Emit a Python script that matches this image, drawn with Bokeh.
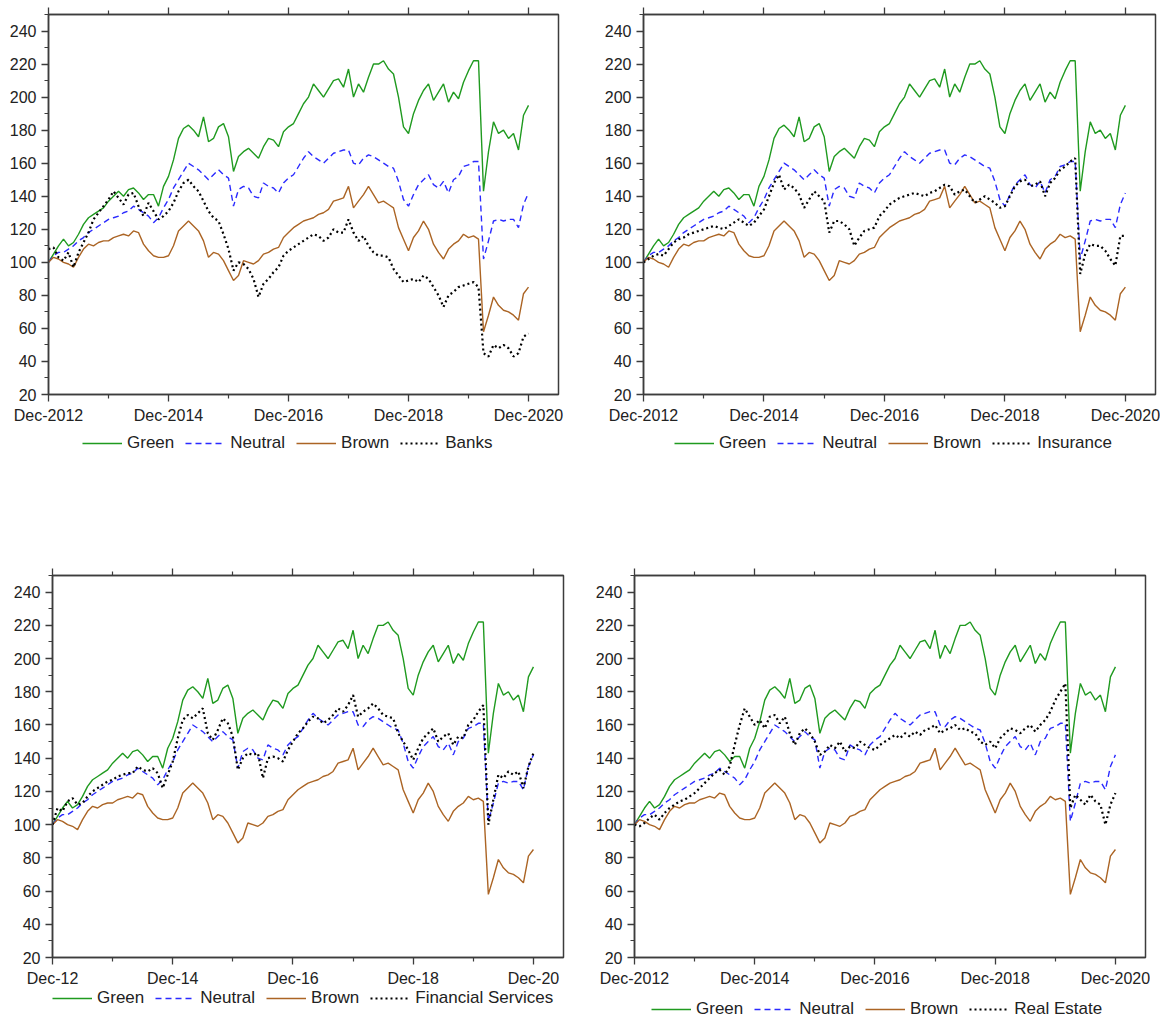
from bokeh.plotting import figure
from bokeh.models import Range1d, FixedTicker, SingleIntervalTicker, LinearAxis, Legend, LegendItem
from bokeh.layouts import column, row
from bokeh.embed import file_html
from bokeh.resources import INLINE

# months since Dec-2012 (monthly observations)
MONTHS = list(range(97))

GREEN = [100, 105, 110, 114, 110, 112, 117, 123, 127, 129, 131, 133,
         137, 140, 143, 140, 144, 145, 142, 138, 141, 141, 134, 146,
         152, 162, 175, 181, 183, 180, 176, 188, 173, 175, 182, 184,
         176, 155, 164, 167, 169, 166, 163, 170, 175, 174, 170, 179,
         182, 184, 190, 196, 200, 208, 204, 200, 205, 210, 211, 206,
         217, 200, 208, 203, 212, 220, 220, 222, 217, 214, 200, 182,
         178, 190, 198, 204, 208, 198, 203, 208, 197, 203, 199, 209,
         216, 222, 222, 143, 167, 185, 178, 180, 175, 178, 168, 189,
         195]

NEUTRAL = [100, 104, 106, 106, 108, 110, 113, 115, 118, 120, 122, 124,
           126, 127, 128, 130, 131, 134, 132, 130, 128, 124, 127, 133,
           138, 145, 150, 155, 160, 158, 156, 153, 150, 153, 156, 153,
           151, 134, 144, 146, 145, 140, 139, 148, 146, 145, 142, 148,
           151, 153, 158, 163, 167, 164, 162, 160, 163, 166, 167, 168,
           168, 160, 159, 163, 165, 164, 162, 160, 158, 157, 149, 138,
           134, 141, 147, 150, 153, 147, 145, 149, 142, 150, 152, 158,
           159, 161, 161, 102, 113, 125, 126, 125, 126, 126, 121, 135,
           142]

BROWN = [100, 103, 102, 100, 99, 97, 103, 108, 111, 110, 112, 113,
         113, 115, 116, 117, 116, 119, 118, 111, 107, 104, 103, 103,
         104, 110, 119, 122, 125, 122, 119, 113, 103, 106, 105, 101,
         95, 89, 92, 101, 100, 99, 101, 105, 106, 108, 109, 115,
         118, 121, 123, 125, 126, 127, 129, 130, 132, 137, 138, 139,
         146, 133, 137, 141, 146, 141, 136, 137, 135, 133, 121, 114,
         107, 115, 119, 125, 120, 111, 106, 102, 108, 111, 113, 117,
         115, 116, 114, 58, 68, 79, 74, 71, 70, 68, 65, 81,
         85]

BANKS = [108, 109, 103, 101, 106, 97, 106, 112, 118, 126, 130, 134,
         138, 143, 139, 135, 141, 142, 134, 128, 136, 131, 126, 128,
         131, 136, 143, 148, 150, 146, 143, 137, 131, 127, 125, 117,
         108, 95, 100, 99, 96, 90, 79, 87, 90, 94, 97, 104,
         107, 109, 111, 113, 115, 117, 116, 113, 115, 120, 118, 118,
         126, 118, 113, 116, 110, 106, 104, 104, 103, 96, 92, 88,
         89, 90, 88, 92, 90, 85, 80, 73, 80, 82, 85, 86,
         87, 88, 85, 45, 43, 50, 48, 50, 48, 43, 45, 55,
         57]

INSURANCE = [100, 102, 104, 105, 104, 108, 112, 114, 115, 117, 118, 119,
             120, 121, 122, 121, 120, 122, 124, 126, 124, 122, 124, 128,
             132, 140, 148, 153, 144, 147, 145, 141, 133, 138, 143, 140,
             137, 118, 125, 125, 123, 120, 110, 115, 119, 120, 121, 128,
             131, 135, 137, 139, 140, 141, 142, 141, 140, 142, 143, 145,
             147, 146, 141, 143, 144, 140, 136, 138, 140, 138, 136, 133,
             134, 140, 146, 149, 150, 146, 147, 149, 140, 148, 151, 156,
             158, 161, 163, 93, 105, 111, 110, 110, 107, 102, 98, 116,
             116]

FIN_SERVICES = [100, 110, 108, 114, 116, 112, 113, 117, 120, 122, 124, 126,
                127, 129, 130, 131, 131, 135, 133, 132, 134, 131, 122, 130,
                138, 152, 163, 166, 164, 167, 170, 155, 151, 157, 164, 161,
                153, 133, 140, 143, 142, 143, 128, 140, 141, 140, 138, 145,
                150, 155, 158, 162, 165, 164, 161, 163, 166, 170, 168, 172,
                178, 165, 168, 170, 173, 170, 166, 165, 164, 155, 150, 145,
                139, 146, 152, 155, 158, 150, 153, 155, 148, 153, 152, 160,
                163, 168, 172, 100, 115, 130, 128, 132, 130, 132, 122, 135,
                143]

REAL_ESTATE = [100, 99, 101, 104, 106, 103, 107, 110, 112, 114, 115, 117,
               119, 122, 125, 128, 131, 133, 130, 135, 148, 160, 170, 165,
               160, 163, 158, 165, 166, 161, 165, 155, 148, 155, 158, 155,
               150, 142, 144, 148, 146, 150, 144, 147, 146, 150, 148, 146,
               145, 148, 150, 152, 154, 152, 155, 153, 156, 154, 157, 158,
               160, 155, 157, 158, 160, 157, 158, 156, 155, 150, 148, 150,
               146, 152, 155, 158, 157, 155, 158, 160, 156, 160, 163, 168,
               175, 180, 185, 110, 118, 115, 112, 118, 114, 112, 100, 112,
               119]

X_TICKS = [0, 24, 48, 72, 96]
X_MINOR = [12, 36, 60, 84]
LABELS_LONG = ["Dec-2012", "Dec-2014", "Dec-2016", "Dec-2018", "Dec-2020"]
LABELS_SHORT = ["Dec-12", "Dec-14", "Dec-16", "Dec-18", "Dec-20"]

FONT = "Liberation Sans"
AX = "#3c3c3c"
C_GREEN = "#1f9a1f"
C_BLUE = "#2a2aff"
C_BROWN = "#ab6424"
C_BLACK = "#000000"


def style_axis(ax):
    ax.axis_line_color = AX
    ax.axis_line_width = 1.5
    ax.major_tick_line_color = AX
    ax.minor_tick_line_color = AX
    ax.major_tick_line_width = 1.3
    ax.minor_tick_line_width = 1.2
    ax.major_tick_in = 0
    ax.minor_tick_in = 0
    ax.major_tick_out = 7
    ax.minor_tick_out = 4
    ax.major_label_text_font = FONT
    ax.major_label_text_font_size = "16px"
    ax.major_label_text_color = "#222222"


def add_series(p, vals):
    rg = p.line(MONTHS, GREEN, line_color=C_GREEN, line_width=1.4)
    rn = p.line(MONTHS, NEUTRAL, line_color=C_BLUE, line_width=1.4, line_dash="6 4")
    rb = p.line(MONTHS, BROWN, line_color=C_BROWN, line_width=1.4)
    rs = p.line(MONTHS, vals, line_color=C_BLACK, line_width=2.2, line_dash="2 3")
    return rg, rn, rb, rs


def make_panel(name, vals, labels, bl, br, bt, fw, fh,
               leg_fig_h, leg_x, leg_top):
    p = figure(frame_width=fw, frame_height=fh,
               min_border_left=bl, min_border_right=br,
               min_border_top=bt, min_border_bottom=32,
               x_range=Range1d(0, 102), y_range=Range1d(20, 250),
               output_backend="svg", toolbar_location=None)
    p.xgrid.visible = False
    p.ygrid.visible = False
    p.outline_line_color = AX
    p.outline_line_width = 1.5

    xa = p.xaxis[0]
    xa.ticker = FixedTicker(ticks=X_TICKS, minor_ticks=X_MINOR)
    xa.major_label_overrides = {t: l for t, l in zip(X_TICKS, labels)}
    style_axis(xa)
    xa.major_label_standoff = 5

    ya = p.yaxis[0]
    ya.ticker = SingleIntervalTicker(interval=20, num_minor_ticks=2)
    style_axis(ya)
    ya.major_label_standoff = 5

    top = LinearAxis(ticker=FixedTicker(ticks=X_TICKS, minor_ticks=X_MINOR))
    style_axis(top)
    top.major_label_overrides = {t: "" for t in X_TICKS}
    top.major_label_text_font_size = "0px"
    top.major_label_standoff = 0
    p.add_layout(top, "above")

    add_series(p, vals)

    # legend strip below the panel (its series lie out of view; only the legend shows)
    lf = figure(frame_width=fw, height=leg_fig_h,
                min_border_left=bl, min_border_right=br,
                min_border_top=0, min_border_bottom=0,
                x_range=Range1d(1000, 1001), y_range=Range1d(1000, 1001),
                output_backend="svg", toolbar_location=None)
    lf.axis.visible = False
    lf.xgrid.visible = False
    lf.ygrid.visible = False
    lf.outline_line_color = None
    rg, rn, rb, rs = add_series(lf, vals)
    item_h = 18
    leg = Legend(items=[LegendItem(label="Green", renderers=[rg]),
                        LegendItem(label="Neutral", renderers=[rn]),
                        LegendItem(label="Brown", renderers=[rb]),
                        LegendItem(label=name, renderers=[rs])],
                 orientation="horizontal",
                 location=(leg_x, leg_fig_h - leg_top - item_h),
                 border_line_color=None, background_fill_alpha=0,
                 padding=0, margin=0, spacing=11, label_standoff=5,
                 glyph_width=40, glyph_height=item_h, label_height=item_h,
                 label_text_font=FONT, label_text_font_size="17px",
                 label_text_color="#222222")
    lf.add_layout(leg)
    return column(p, lf, spacing=0)


c1 = make_panel("Banks", BANKS, LABELS_LONG, 48, 43, 14, 510, 380, 142, 34, 9)
c2 = make_panel("Insurance", INSURANCE, LABELS_LONG, 40, 5, 14, 512, 380, 142, 31, 9)
c3 = make_panel("Financial Services", FIN_SERVICES, LABELS_SHORT, 52, 29, 6, 511, 382, 34, 0, 1)
c4 = make_panel("Real Estate", REAL_ESTATE, LABELS_LONG, 40, 5, 6, 511, 382, 34, 17, 12)

layout = column(row(c1, c2, spacing=0), row(c3, c4, spacing=0), spacing=0)
open("out.html", "w").write(file_html(layout, INLINE))
